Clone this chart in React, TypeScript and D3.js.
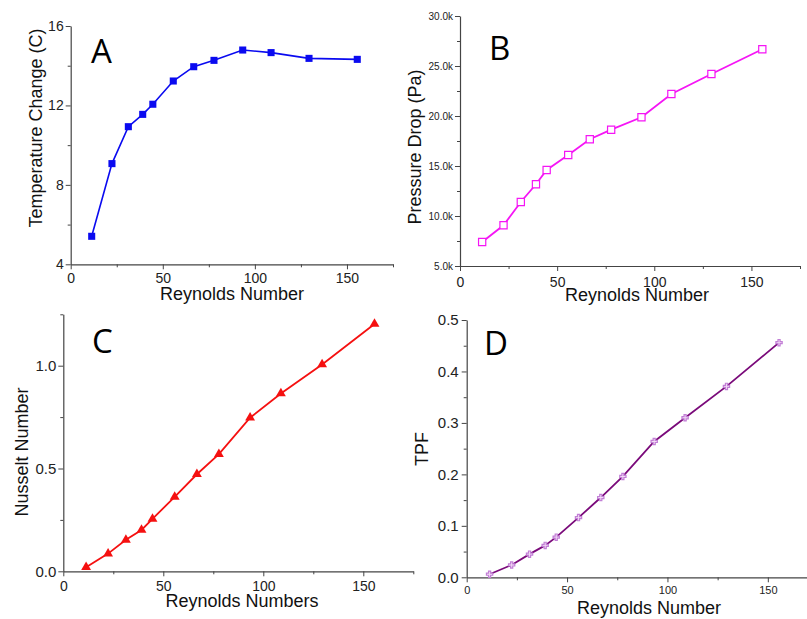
import React, { useRef, useEffect } from 'react';
import * as d3 from 'd3';

// values
const reynolds = [11.4, 22.4, 31.3, 39.1, 44.6, 55.7, 66.8, 77.8, 93.4, 108.8, 129.4, 155.6];
const tempChange = [5.41, 9.07, 10.93, 11.55, 12.06, 13.23, 13.95, 14.27, 14.79, 14.66, 14.37, 14.32];
const pressureDrop = [7400, 9070, 11400, 13170, 14600, 16100, 17670, 18630, 19870, 22200, 24200, 26670];
const nusselt = [0.02, 0.086, 0.153, 0.201, 0.255, 0.362, 0.472, 0.57, 0.747, 0.865, 1.006, 1.203];
const tpf = [0.006, 0.024, 0.045, 0.062, 0.078, 0.116, 0.155, 0.196, 0.264, 0.31, 0.371, 0.456];

const xTicks = [0, 50, 100, 150];
const xMinor = [25, 75, 125, 175];
const tempTicks = [4, 8, 12, 16];
const tempMinor = [6, 10, 14];
const pressureTicks = [5000, 10000, 15000, 20000, 25000, 30000];
const pressureMinor = [7500, 12500, 17500, 22500, 27500];
const nusseltTicks = [0, 0.5, 1.0];
const nusseltMinor = [0.25, 0.75, 1.25];
const tpfTicks = [0, 0.1, 0.2, 0.3, 0.4, 0.5];
const tpfMinor = [0.05, 0.15, 0.25, 0.35, 0.45];

const FONT = 'Liberation Sans, Arial, sans-serif';

type PanelCfg = {
  letter: string;
  values: number[];
  yDomain: [number, number];
  yTicks: number[];
  yMinor: number[];
  yFormat: (d: number) => string;
  xLabel: string;
  yLabel: string;
  left: number; right: number; top: number; bottom: number;
  color: string;
  lineWidth: number;
  marker: any;
  markerSize: number;
  markerFill: string;
  markerStroke: string;
  xTickFont: number;
  yTickFont: number;
  xTickOffset: number;
  yTickGap: number;
  xLabelPos: [number, number];
  yLabelPos: [number, number];
  letterPos: [number, number];
};

const panels: PanelCfg[] = [
  {
    letter: 'A', values: tempChange, yDomain: [4, 16], yTicks: tempTicks, yMinor: tempMinor,
    yFormat: (d) => String(d), xLabel: 'Reynolds Number', yLabel: 'Temperature Change (C)',
    left: 70.7, right: 393, top: 26, bottom: 264.3,
    color: '#0a0af0', lineWidth: 1.6, marker: d3.symbolSquare, markerSize: 50,
    markerFill: '#0a0af0', markerStroke: 'none',
    xTickFont: 14, yTickFont: 14, xTickOffset: 19, yTickGap: 7,
    xLabelPos: [232, 300], yLabelPos: [42, 128], letterPos: [91, 63],
  },
  {
    letter: 'B', values: pressureDrop, yDomain: [5000, 30000], yTicks: pressureTicks, yMinor: pressureMinor,
    yFormat: (d) => (d / 1000).toFixed(1) + 'k', xLabel: 'Reynolds Number', yLabel: 'Pressure Drop (Pa)',
    left: 460, right: 800, top: 16, bottom: 266,
    color: '#f515f5', lineWidth: 1.8, marker: d3.symbolSquare, markerSize: 52,
    markerFill: '#ffffff', markerStroke: '#f515f5',
    xTickFont: 14, yTickFont: 10, xTickOffset: 21, yTickGap: 7,
    xLabelPos: [637, 301], yLabelPos: [421, 147], letterPos: [489, 60],
  },
  {
    letter: 'C', values: nusselt, yDomain: [0, 1.25], yTicks: nusseltTicks, yMinor: nusseltMinor,
    yFormat: d3.format('.1f'), xLabel: 'Reynolds Numbers', yLabel: 'Nusselt Number',
    left: 63.3, right: 413.3, top: 314.3, bottom: 571.3,
    color: '#f51010', lineWidth: 1.8, marker: d3.symbolTriangle, markerSize: 42,
    markerFill: '#f51010', markerStroke: 'none',
    xTickFont: 14, yTickFont: 15, xTickOffset: 20, yTickGap: 7,
    xLabelPos: [242, 607], yLabelPos: [28, 452], letterPos: [92, 353],
  },
  {
    letter: 'D', values: tpf, yDomain: [0, 0.5], yTicks: tpfTicks, yMinor: tpfMinor,
    yFormat: d3.format('.1f'), xLabel: 'Reynolds Number', yLabel: 'TPF',
    left: 466.7, right: 818, top: 320, bottom: 577.3,
    color: '#7a0a7a', lineWidth: 1.8, marker: d3.symbolCross, markerSize: 22,
    markerFill: '#f3dcf5', markerStroke: '#c27fd6',
    xTickFont: 11, yTickFont: 15, xTickOffset: 17, yTickGap: 8,
    xLabelPos: [649, 614], yLabelPos: [428, 449], letterPos: [484, 355],
  },
];

const Panel = ({ cfg }: { cfg: PanelCfg }) => {
  const ref = useRef<SVGGElement>(null);

  useEffect(() => {
    const g = d3.select(ref.current);
    g.selectAll('*').remove();

    const x = d3.scaleLinear().domain([0, 175]).range([cfg.left, cfg.right]);
    const y = d3.scaleLinear().domain(cfg.yDomain).range([cfg.bottom, cfg.top]);

    // minor ticks first, no labels
    g.append('g')
      .attr('transform', `translate(0,${cfg.bottom})`)
      .call(d3.axisBottom(x).tickValues(xMinor).tickSize(3).tickFormat(() => ''))
      .call((s) => s.select('.domain').remove());
    g.append('g')
      .attr('transform', `translate(${cfg.left},0)`)
      .call(d3.axisLeft(y).tickValues(cfg.yMinor).tickSize(3).tickFormat(() => ''))
      .call((s) => s.select('.domain').remove());

    const xAxis = g.append('g')
      .attr('transform', `translate(0,${cfg.bottom})`)
      .call(d3.axisBottom(x).tickValues(xTicks).tickSize(5).tickSizeOuter(0).tickFormat(d3.format('d')));
    xAxis.selectAll('text')
      .attr('y', cfg.xTickOffset).attr('dy', 0)
      .attr('font-size', cfg.xTickFont);

    const yAxis = g.append('g')
      .attr('transform', `translate(${cfg.left},0)`)
      .call(d3.axisLeft(y).tickValues(cfg.yTicks).tickSize(5).tickSizeOuter(0).tickFormat(cfg.yFormat as any));
    yAxis.selectAll('text')
      .attr('x', -cfg.yTickGap)
      .attr('font-size', cfg.yTickFont);

    g.selectAll('.tick line').attr('stroke', '#444').attr('stroke-width', 1);
    g.selectAll('.domain').attr('stroke', '#444').attr('stroke-width', 1.2);
    g.selectAll('.tick text').attr('fill', '#222').attr('font-family', FONT);

    const pts = reynolds.map((r, i) => [r, cfg.values[i]] as [number, number]);
    const myLine = d3.line<[number, number]>()
      .x((d) => x(d[0]))
      .y((d) => y(d[1]));

    g.append('path')
      .attr('d', myLine(pts))
      .attr('fill', 'none')
      .attr('stroke', cfg.color)
      .attr('stroke-width', cfg.lineWidth);

    g.selectAll('path.mark')
      .data(pts)
      .join('path')
      .attr('class', 'mark')
      .attr('transform', (d) => `translate(${x(d[0])},${y(d[1])})`)
      .attr('d', d3.symbol().type(cfg.marker).size(cfg.markerSize)())
      .attr('fill', cfg.markerFill)
      .attr('stroke', cfg.markerStroke)
      .attr('stroke-width', 1.2);

    g.append('text')
      .attr('x', cfg.xLabelPos[0]).attr('y', cfg.xLabelPos[1])
      .attr('text-anchor', 'middle')
      .attr('font-family', FONT).attr('font-size', 18).attr('fill', '#111')
      .text(cfg.xLabel);

    g.append('text')
      .attr('transform', `translate(${cfg.yLabelPos[0]},${cfg.yLabelPos[1]}) rotate(-90)`)
      .attr('text-anchor', 'middle')
      .attr('font-family', FONT).attr('font-size', 18).attr('fill', '#111')
      .text(cfg.yLabel);

    g.append('text')
      .attr('x', cfg.letterPos[0]).attr('y', cfg.letterPos[1])
      .attr('font-family', 'Open Sans, sans-serif').attr('font-size', 33).attr('fill', '#000')
      .text(cfg.letter);
  }, [cfg]);

  return <g ref={ref} />;
};

export default function App() {
  return (
    <svg
      width={807}
      height={619}
      style={{ position: 'absolute', left: 0, top: 0, background: '#fff', display: 'block' }}
    >
      <rect width={807} height={619} fill="#fff" />
      {panels.map((p) => (
        <Panel key={p.letter} cfg={p} />
      ))}
    </svg>
  );
}
